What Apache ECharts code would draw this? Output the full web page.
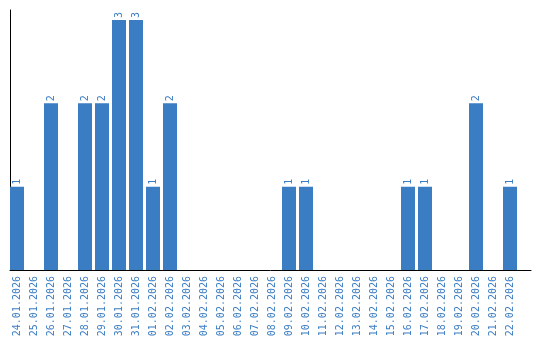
<!DOCTYPE html>
<html>
<head>
<meta charset="utf-8">
<script src="https://cdn.jsdelivr.net/npm/echarts@6/dist/echarts.min.js"></script>
<style>
html,body{margin:0;padding:0;background:#fff;}
#chart{width:540px;height:340px;}
</style>
</head>
<body>
<div id="chart"></div>
<script>
const categories = ["24.01.2026","25.01.2026","26.01.2026","27.01.2026","28.01.2026","29.01.2026","30.01.2026","31.01.2026","01.02.2026","02.02.2026","03.02.2026","04.02.2026","05.02.2026","06.02.2026","07.02.2026","08.02.2026","09.02.2026","10.02.2026","11.02.2026","12.02.2026","13.02.2026","14.02.2026","15.02.2026","16.02.2026","17.02.2026","18.02.2026","19.02.2026","20.02.2026","21.02.2026","22.02.2026"];
const values = [1,0,2,0,2,2,3,3,1,2,0,0,0,0,0,0,1,1,0,0,0,0,0,1,1,0,0,2,0,1];

const blue = '#3b7dc2';
const chart = echarts.init(document.getElementById('chart'));
chart.setOption({
  animation: false,
  grid: [
    {left: 8.5, width: 510, top: 10, bottom: 70},
    {left: 10, right: 9, top: 10, bottom: 70}
  ],
  xAxis: [
    {
      type: 'category', gridIndex: 0, data: categories,
      axisLine: {show: false}, axisTick: {show: false},
      axisLabel: {interval: 0, rotate: 90, color: blue, fontFamily: 'DejaVu Sans Mono', fontSize: 10, margin: 6}
    },
    {
      type: 'value', gridIndex: 1, min: 0, max: 1,
      axisLine: {show: true, onZero: false, lineStyle: {color: '#000', width: 1}},
      axisTick: {show: false}, axisLabel: {show: false}, splitLine: {show: false}
    }
  ],
  yAxis: [
    {
      type: 'value', gridIndex: 0, min: 0, max: 3.12,
      axisLine: {show: false}, axisTick: {show: false}, axisLabel: {show: false}, splitLine: {show: false}
    },
    {
      type: 'value', gridIndex: 1, min: 0, max: 1,
      axisLine: {show: true, onZero: false, lineStyle: {color: '#000', width: 1}},
      axisTick: {show: false}, axisLabel: {show: false}, splitLine: {show: false}
    }
  ],
  series: [{
    type: 'bar', xAxisIndex: 0, yAxisIndex: 0,
    data: values, barWidth: 14,
    itemStyle: {color: blue},
    label: {
      show: true, position: 'top', rotate: 90, align: 'left', verticalAlign: 'middle',
      distance: 2, color: blue, fontFamily: 'DejaVu Sans Mono', fontSize: 10,
      formatter: p => p.value ? String(p.value) : ''
    }
  }]
});
</script>
</body>
</html>
